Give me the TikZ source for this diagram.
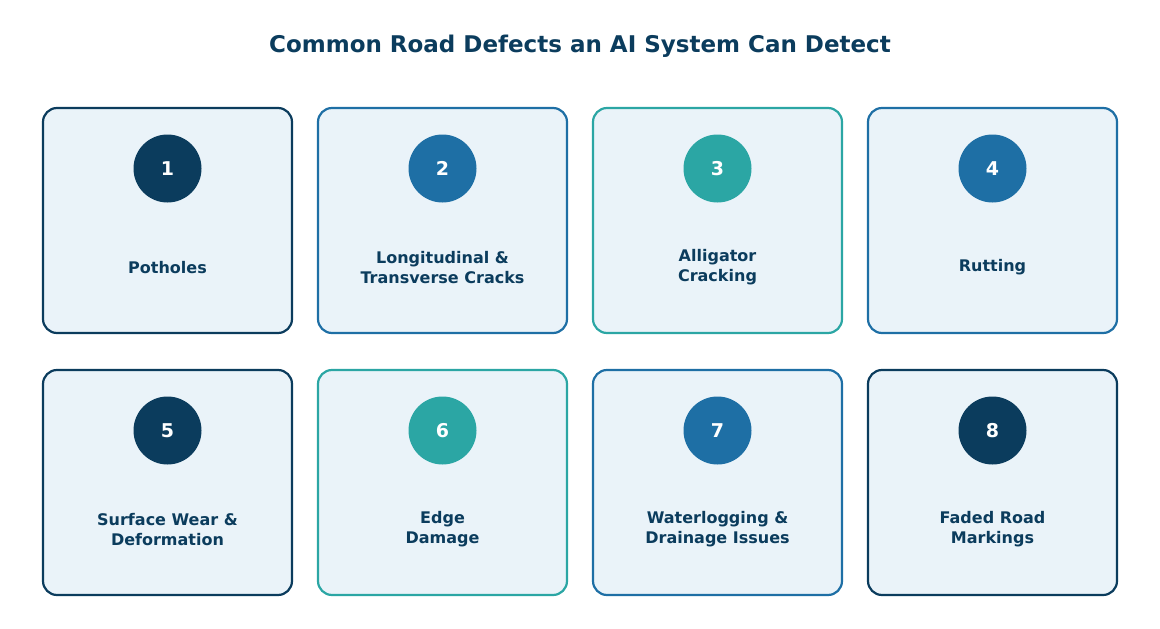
\documentclass[tikz,border=0pt]{standalone}
\usepackage{fontspec}
\setmainfont{DejaVu Sans}
\definecolor{dk}{HTML}{0B3C5D}
\definecolor{md}{HTML}{1E6FA5}
\definecolor{tl}{HTML}{2BA6A4}
\definecolor{bg}{HTML}{EAF3F9}
\begin{document}
\begin{tikzpicture}[x=1pt,y=-1pt,
 card/.style={draw=#1,line width=2.2pt,fill=bg,rounded corners=14pt,minimum width=249pt,minimum height=225pt,inner sep=0pt},
 num/.style={circle,fill=#1,minimum size=68pt,inner sep=0pt,text=white,font=\bfseries\fontsize{19}{22}\selectfont},
 lab/.style={text=dk,align=center,font=\bfseries\fontsize{16}{20}\selectfont}]
\useasboundingbox (0,0) rectangle (1160,629);
\node[text=dk,font=\bfseries\fontsize{23}{28}\selectfont] (title) at (580,46) {Common Road Defects an AI System Can Detect};
\foreach \i/\cx/\cy/\c/\t in {
 1/167.5/220.5/dk/Potholes,
 2/442.5/220.5/md/{Longitudinal \&\\Transverse Cracks},
 3/717.5/220.5/tl/{Alligator\\Cracking},
 4/992.5/220.5/md/Rutting,
 5/167.5/482.5/dk/{Surface Wear \&\\Deformation},
 6/442.5/482.5/tl/{Edge\\Damage},
 7/717.5/482.5/md/{Waterlogging \&\\Drainage Issues},
 8/992.5/482.5/dk/{Faded Road\\Markings}}{
 \node[card=\c] (card\i) at (\cx,\cy) {};
 \node[num=\c] (n\i) at (\cx,\cy-52) {\i};
 \node[lab] (l\i) at (\cx,\cy+47) {\t};
}
\end{tikzpicture}
\end{document}
